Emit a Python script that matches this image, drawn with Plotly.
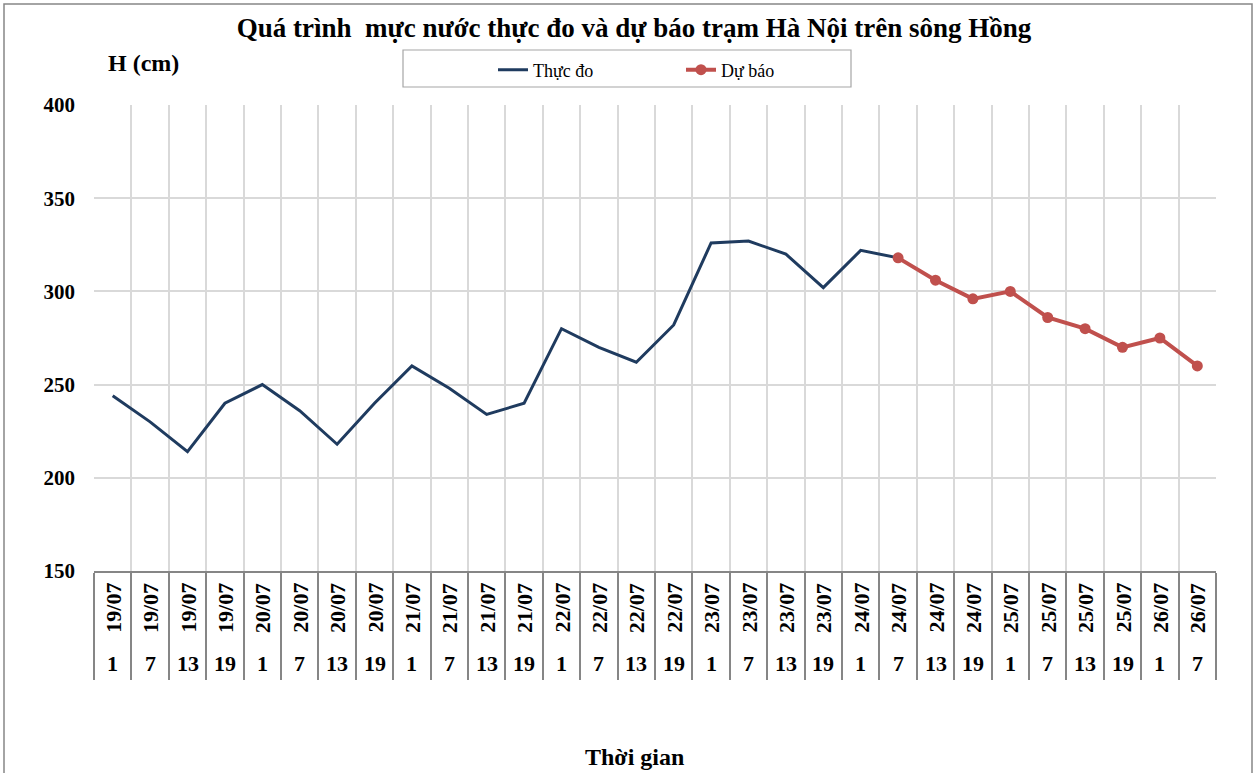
import plotly.graph_objects as go

dates = ["19/07"] * 4 + ["20/07"] * 4 + ["21/07"] * 4 + ["22/07"] * 4 + \
        ["23/07"] * 4 + ["24/07"] * 4 + ["25/07"] * 4 + ["26/07"] * 2
hours = ["1", "7", "13", "19"] * 7 + ["1", "7"]

observed = [244, 230, 214, 240, 250, 236, 218, 240, 260, 248, 234, 240,
            280, 270, 262, 282, 326, 327, 320, 302, 322, 318]
forecast = [318, 306, 296, 300, 286, 280, 270, 275, 260]

y_ticks = [150, 200, 250, 300, 350, 400]

n = len(dates)
x_all = list(range(n))
x_obs = x_all[:len(observed)]
x_fc = x_all[len(observed) - 1:len(observed) - 1 + len(forecast)]

FONT = "Liberation Serif"
W, H = 1258, 773
L, R, T, B = 94, 42, 105, 202
PW, PH = W - L - R, H - T - B


def px_x(px):
    return (px - L) / PW


def px_y(py):
    return (H - B - py) / PH


fig = go.Figure()
fig.add_trace(go.Scatter(
    x=x_obs, y=observed, mode="lines", name="Thực đo",
    line=dict(color="#1F3B5F", width=3)))
fig.add_trace(go.Scatter(
    x=x_fc, y=forecast, mode="lines+markers", name="Dự báo",
    line=dict(color="#C0504D", width=4),
    marker=dict(color="#C0504D", size=11)))

annotations = []
for i, (d, h) in enumerate(zip(dates, hours)):
    annotations.append(dict(
        x=i, y=0, xref="x", yref="paper", text=d, showarrow=False,
        textangle=-90, yanchor="middle", xanchor="center", yshift=-37,
        font=dict(family=FONT, size=22, color="black", weight="bold")))
    annotations.append(dict(
        x=i, y=0, xref="x", yref="paper", text=h, showarrow=False,
        yanchor="middle", xanchor="center", yshift=-92,
        font=dict(family=FONT, size=22, color="black", weight="bold")))

annotations.append(dict(
    x=px_x(634), y=0, xref="paper", yref="paper", text="Thời gian",
    showarrow=False, xanchor="center", yanchor="middle", yshift=-186,
    font=dict(family=FONT, size=24, color="black", weight="bold")))
annotations.append(dict(
    x=px_x(106), y=1, xref="paper", yref="paper", text="H (cm)",
    showarrow=False, xanchor="left", yanchor="middle", yshift=42,
    font=dict(family=FONT, size=24, color="black", weight="bold")))

shapes = [
    # outer chart border
    dict(type="rect", xref="paper", yref="paper",
         x0=px_x(4), x1=px_x(1252), y0=px_y(790), y1=px_y(4),
         line=dict(color="#868686", width=1.5), layer="below"),
    # legend box
    dict(type="rect", xref="paper", yref="paper",
         x0=px_x(403), x1=px_x(851), y0=px_y(87), y1=px_y(50),
         line=dict(color="#A6A6A6", width=1.2), layer="below"),
]

fig.update_layout(
    width=W, height=H,
    margin=dict(l=L, r=R, t=T, b=B),
    paper_bgcolor="white", plot_bgcolor="white",
    title=dict(text="Quá trình\u00a0 mực nước thực đo và dự báo trạm Hà Nội trên sông Hồng",
               x=0.504, xanchor="center", y=1 - 28 / H, yanchor="middle",
               font=dict(family=FONT, size=27, color="black", weight="bold")),
    showlegend=True,
    legend=dict(orientation="h", x=px_x(493), xanchor="left",
                y=px_y(70), yanchor="middle",
                entrywidth=143, entrywidthmode="pixels",
                bgcolor="rgba(0,0,0,0)", borderwidth=0,
                font=dict(family=FONT, size=18, color="black")),
    annotations=annotations,
    shapes=shapes,
)

fig.update_xaxes(
    range=[-0.5, n - 0.5], tick0=-0.5, dtick=1, tickmode="linear",
    showticklabels=False, showgrid=True, gridcolor="#D9D9D9", gridwidth=1.5,
    ticks="outside", ticklen=107, tickcolor="#868686", tickwidth=1.5,
    showline=True, linecolor="#868686", linewidth=1.5, zeroline=False,
)
fig.update_yaxes(
    range=[150, 400], tickvals=y_ticks, ticktext=[str(v) for v in y_ticks],
    showgrid=True, gridcolor="#D9D9D9", gridwidth=1.5, zeroline=False,
    showline=False, ticks="", ticklabelstandoff=18,
    tickfont=dict(family=FONT, size=21, color="black", weight="bold"),
)

fig.write_html("out.html",
               config={"displayModeBar": False},
               post_script="document.body.style.margin='0';"
                           "document.body.style.overflow='hidden';")
